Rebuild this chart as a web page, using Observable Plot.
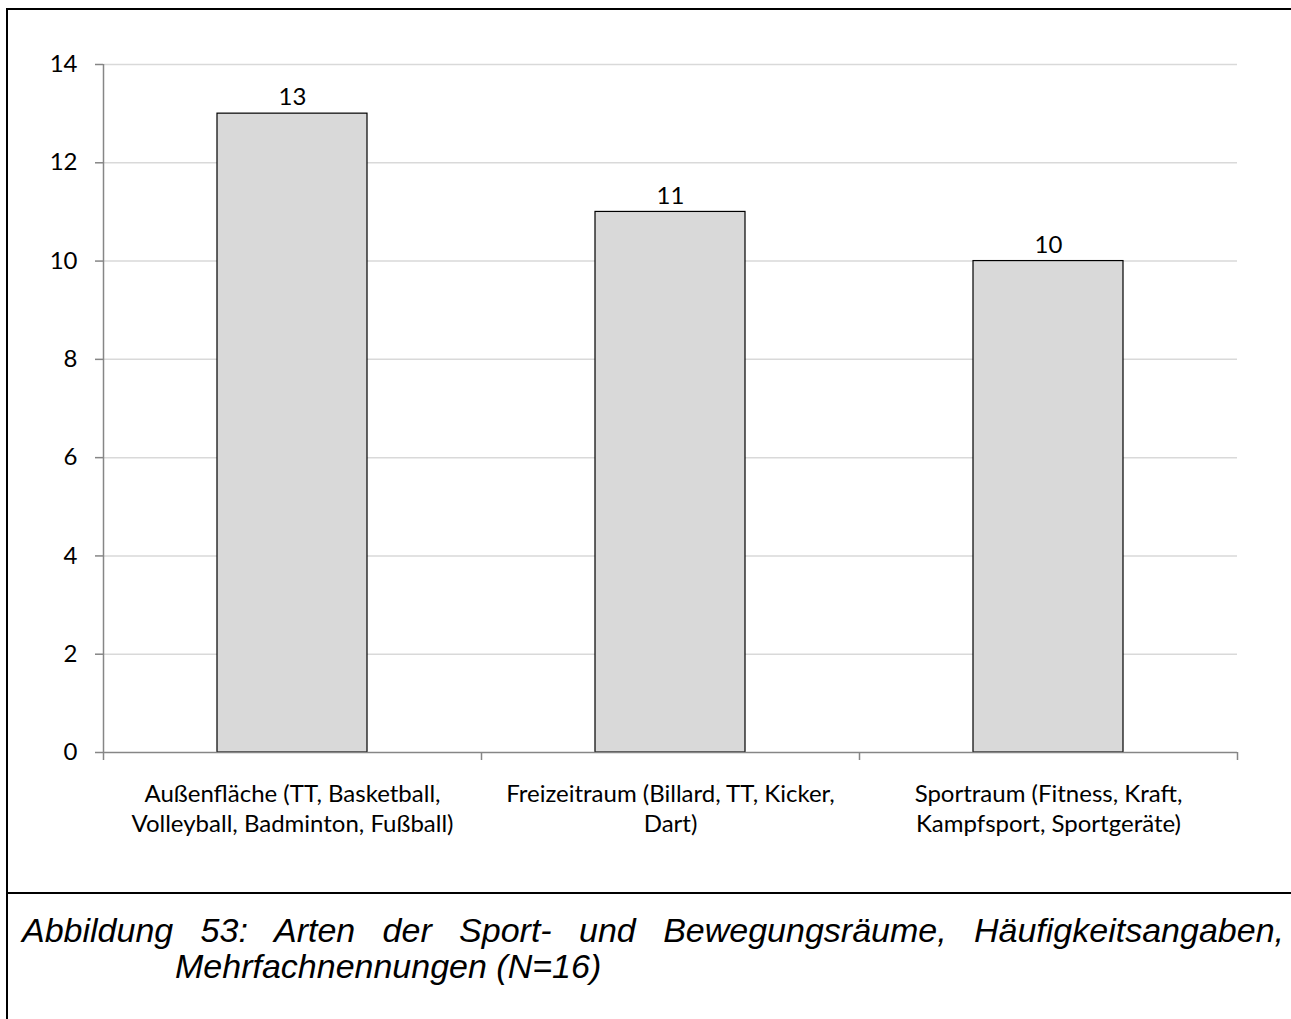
<!DOCTYPE html>
<html><head><meta charset="utf-8">
<script src="https://cdn.jsdelivr.net/npm/d3@7"></script>
<script src="https://cdn.jsdelivr.net/npm/@observablehq/plot@0.6"></script>
<style>
html,body{margin:0;padding:0;background:#fff;}
#page{position:relative;width:1291px;height:1019px;overflow:hidden;background:#fff;}
#chart{position:absolute;left:0;top:0;}
.bl{position:absolute;background:#000;}
#caption{position:absolute;left:22px;top:912px;width:1109px;padding-left:153px;text-indent:-153px;
  font-family:"Liberation Sans",Arial,sans-serif;font-style:italic;font-size:34px;line-height:36px;text-align:justify;color:#000;}
</style></head>
<body>
<div id="page">
  <div id="chart"></div>
  <div class="bl" style="left:6px;top:8px;width:2px;height:1011px;"></div>
  <div class="bl" style="left:6px;top:8px;width:1285px;height:2px;"></div>
  <div class="bl" style="left:6px;top:892px;width:1285px;height:2px;"></div>
  <div id="caption">Abbildung 53: Arten der Sport- und Bewegungsräume, Häufigkeitsangaben, Mehrfachnennungen (N=16)</div>
</div>
<script>
const categories = [
  "Außenfläche (TT, Basketball,\nVolleyball, Badminton, Fußball)",
  "Freizeitraum (Billard, TT, Kicker,\nDart)",
  "Sportraum (Fitness, Kraft,\nKampfsport, Sportgeräte)"
];
const values = [13, 11, 10];
const yTicks = [0, 2, 4, 6, 8, 10, 12, 14];

const data = categories.map((c, i) => ({category: c, index: i, value: values[i]}));

const chart = Plot.plot({
  width: 1291,
  height: 893,
  marginLeft: 103,
  marginRight: 54,
  marginTop: 64,
  marginBottom: 141,
  style: {fontFamily: "Lato, 'Open Sans', sans-serif", fontSize: "24px", color: "#000", background: "transparent", overflow: "visible"},
  x: {domain: [0, categories.length], axis: null, label: null},
  y: {domain: [0, 14], axis: null, label: null},
  marks: [
    Plot.gridY(yTicks.slice(1), {stroke: "#d9d9d9", strokeOpacity: 1, strokeWidth: 1.5}),
    Plot.rectY(data, {x1: "index", x2: d => d.index + 1, y: "value", insetLeft: 114, insetRight: 114, fill: "#d9d9d9", stroke: "#000", strokeWidth: 1.2}),
    Plot.ruleX([0], {stroke: "#868686", strokeWidth: 1.5}),
    Plot.ruleY([0], {stroke: "#868686", strokeWidth: 1.5}),
    Plot.axisY({ticks: yTicks, label: null, tickSize: 8, tickPadding: 18, stroke: "#868686", strokeWidth: 1.5, fill: "#000", fontSize: 24}),
    Plot.axisX({ticks: d3.range(categories.length + 1), label: null, tickSize: 8, tickFormat: () => "", stroke: "#868686", strokeWidth: 1.5}),
    Plot.text(data, {x: d => d.index + 0.5, y: "value", text: d => String(d.value), dy: -16, lineAnchor: "middle", fill: "#000", fontSize: 24}),
    Plot.text(data, {x: d => d.index + 0.5, y: () => 0, text: "category", dy: 28, lineAnchor: "top", lineHeight: 1.25, fill: "#000", fontSize: 24})
  ]
});
document.getElementById("chart").appendChild(chart);
</script>
</body></html>
